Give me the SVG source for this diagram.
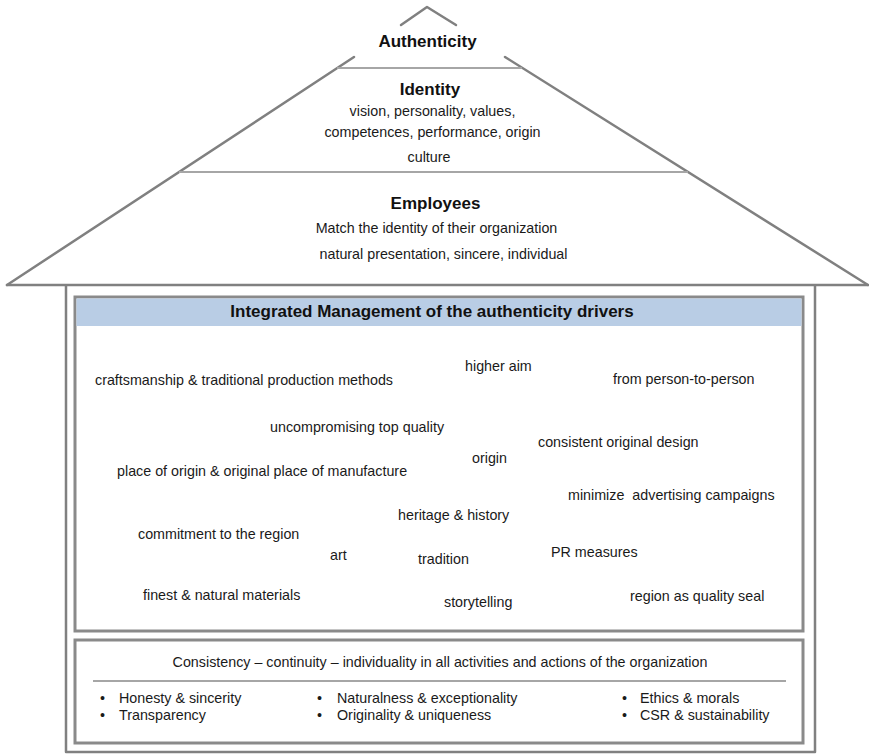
<svg xmlns="http://www.w3.org/2000/svg" width="869" height="754" viewBox="0 0 869 754">
<style>
.ln{fill:none;stroke:#808080;stroke-width:2.5;stroke-linecap:round;stroke-linejoin:round}
.sep{fill:none;stroke:#a6a6a6;stroke-width:2}
.box{fill:#ffffff;stroke:#8a8a8a;stroke-width:3}
.hd{fill:#b9cde5}
text{font-family:"Liberation Sans",Arial,sans-serif;fill:#1a1a1a}
.h{font-size:17px;font-weight:bold;text-anchor:middle;fill:#111}
.t{font-size:14.3px}
.c{text-anchor:middle}
</style>
<rect x="0" y="0" width="869" height="754" fill="#ffffff"/>
<g id="house-frame">
<polyline class="ln" points="401,25 427,7 456,25"/>
<line class="ln" x1="354" y1="57" x2="7" y2="285"/>
<line class="ln" x1="505" y1="57" x2="868" y2="285"/>
<line class="ln" x1="7" y1="285" x2="868" y2="285"/>
<polyline class="ln" points="66,286 66,752 815,752 815,286"/>
</g>
<g id="authenticity">
<text class="h" x="427.5" y="47">Authenticity</text>
</g>
<g id="identity">
<line class="sep" x1="337" y1="68" x2="522" y2="68"/>
<text class="h" x="430" y="95">Identity</text>
<text class="t c" x="432.5" y="116">vision, personality, values,</text>
<text class="t c" x="432.5" y="137">competences, performance, origin</text>
<text class="t c" x="429" y="162">culture</text>
</g>
<g id="employees">
<line class="sep" x1="179" y1="172" x2="688" y2="172"/>
<text class="h" x="435.5" y="209">Employees</text>
<text class="t c" x="436.5" y="233">Match the identity of their organization</text>
<text class="t c" x="443.5" y="259">natural presentation, sincere, individual</text>
</g>
<g id="drivers">
<rect class="box" x="75" y="297" width="728" height="334"/>
<rect class="hd" x="76.5" y="298.5" width="725" height="27.5"/>
<text class="h" x="432" y="316.5">Integrated Management of the authenticity drivers</text>
<text class="t" x="95" y="385">craftsmanship &amp; traditional production methods</text>
<text class="t" x="465" y="371">higher aim</text>
<text class="t" x="613" y="384">from person-to-person</text>
<text class="t" x="270" y="432">uncompromising top quality</text>
<text class="t" x="538" y="447">consistent original design</text>
<text class="t" x="472" y="463">origin</text>
<text class="t" x="117" y="476">place of origin &amp; original place of manufacture</text>
<text class="t" x="568" y="500" xml:space="preserve">minimize  advertising campaigns</text>
<text class="t" x="398" y="520">heritage &amp; history</text>
<text class="t" x="138" y="539">commitment to the region</text>
<text class="t" x="330" y="560">art</text>
<text class="t" x="551" y="557">PR measures</text>
<text class="t" x="418" y="564">tradition</text>
<text class="t" x="143" y="600">finest &amp; natural materials</text>
<text class="t" x="630" y="601">region as quality seal</text>
<text class="t" x="444" y="607">storytelling</text>
</g>
<g id="consistency">
<rect class="box" x="75" y="640" width="728" height="103"/>
<text class="t c" x="440" y="667">Consistency – continuity – individuality in all activities and actions of the organization</text>
<line class="sep" x1="93" y1="681" x2="786" y2="681"/>
<text class="t" x="100" y="703">•</text>
<text class="t" x="119" y="703">Honesty &amp; sincerity</text>
<text class="t" x="100" y="720">•</text>
<text class="t" x="119" y="720">Transparency</text>
<text class="t" x="317" y="703">•</text>
<text class="t" x="337" y="703">Naturalness &amp; exceptionality</text>
<text class="t" x="317" y="720">•</text>
<text class="t" x="337" y="720">Originality &amp; uniqueness</text>
<text class="t" x="622" y="703">•</text>
<text class="t" x="640" y="703">Ethics &amp; morals</text>
<text class="t" x="622" y="720">•</text>
<text class="t" x="640" y="720">CSR &amp; sustainability</text>
</g>
<g id="connectors"></g>
</svg>
